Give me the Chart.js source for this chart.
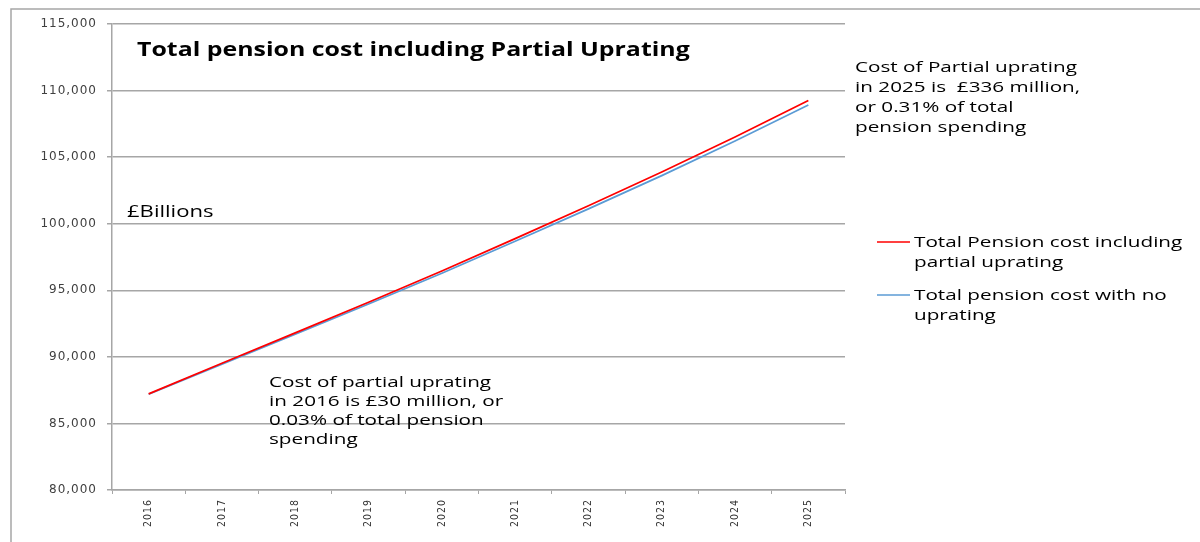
<!DOCTYPE html>
<html>
<head>
<meta charset="utf-8">
<script src="https://cdn.jsdelivr.net/npm/chart.js@4.4.1/dist/chart.umd.min.js"></script>
<style>
  html, body { margin: 0; padding: 0; background: #fff; }
  #wrap { width: 1200px; height: 542px; position: relative; }
</style>
</head>
<body>
<div id="wrap"><canvas id="chart"></canvas></div>
<script>
const years = ['2016', '2017', '2018', '2019', '2020', '2021', '2022', '2023', '2024', '2025'];
const withPartial = [87220, 89520, 91800, 94100, 96450, 98880, 101350, 103880, 106520, 109250];
const noUprating = [87190, 89456, 91702, 93968, 96284, 98680, 101116, 103612, 106218, 108914];
const seriesNames = ['Total Pension cost including partial uprating', 'Total pension cost with no uprating'];
const yTicks = { min: 80000, max: 115000, step: 5000 };

const chartTitle = 'Total pension cost including Partial Uprating';
const unitLabel = '£Billions';
const note2016 = ['Cost of partial uprating', 'in 2016 is £30 million, or', '0.03% of total pension', 'spending'];
const note2025 = ['Cost of Partial uprating', 'in 2025 is  £336 million,', 'or 0.31% of total', 'pension spending'];

const textFont = '"Open Sans", "Noto Sans", sans-serif';
const gridGray = '#a6a6a6';

// the source picture is stretched sideways, so text is widened to match
function wideText(ctx, text, x, y, sx) {
    ctx.save();
    ctx.translate(x, y);
    ctx.scale(sx, 1);
    ctx.fillText(text, 0, 0);
    ctx.restore();
}

const textPlugin = {
    id: 'textPlugin',
    beforeDraw(chart) {
        chart.ctx.letterSpacing = '1px';
    },
    afterDraw(chart) {
        const ctx = chart.ctx;
        ctx.save();
        ctx.letterSpacing = '0px';

        // outer frame
        ctx.strokeStyle = gridGray;
        ctx.lineWidth = 1.5;
        ctx.beginPath();
        ctx.moveTo(11, 542);
        ctx.lineTo(11, 9);
        ctx.lineTo(1200, 9);
        ctx.stroke();

        ctx.fillStyle = '#000';
        ctx.textBaseline = 'alphabetic';
        ctx.textAlign = 'left';

        const sx = 1.38;
        ctx.font = 'bold 19px ' + textFont;
        wideText(ctx, chartTitle, 137, 56, 1.31);

        ctx.font = '16px ' + textFont;
        wideText(ctx, unitLabel, 127, 217, sx);

        ctx.font = '15px ' + textFont;
        note2016.forEach((line, i) => wideText(ctx, line, 269, 387 + i * 19, sx));
        note2025.forEach((line, i) => wideText(ctx, line, 855, 72 + i * 20, sx));

        // legend
        const legendY = [242, 295];
        chart.data.datasets.forEach((ds, i) => {
            const y = legendY[i];
            ctx.strokeStyle = ds.borderColor;
            ctx.lineWidth = 1.5;
            ctx.beginPath();
            ctx.moveTo(877, y);
            ctx.lineTo(910, y);
            ctx.stroke();

            const words = ds.label.split(' ');
            const lines = [];
            let cur = '';
            words.forEach(w => {
                const test = cur ? cur + ' ' + w : w;
                if (ctx.measureText(test).width * sx > 275 && cur) {
                    lines.push(cur);
                    cur = w;
                } else {
                    cur = test;
                }
            });
            lines.push(cur);
            ctx.fillStyle = '#000';
            lines.forEach((line, j) => wideText(ctx, line, 914, y + 5 + j * 20, sx));
        });

        ctx.restore();
    }
};

const ctx = document.getElementById('chart').getContext('2d');
new Chart(ctx, {
    type: 'line',
    data: {
        labels: years,
        datasets: [{
            label: seriesNames[0],
            data: withPartial,
            borderColor: '#ff0000',
            borderWidth: 1.7,
            pointRadius: 0,
            tension: 0
        }, {
            label: seriesNames[1],
            data: noUprating,
            borderColor: '#5b9bd5',
            borderWidth: 1.7,
            pointRadius: 0,
            tension: 0
        }]
    },
    options: {
        responsive: true,
        maintainAspectRatio: false,
        animation: false,
        layout: {
            padding: { left: 0, top: 24, right: 355, bottom: 0 }
        },
        plugins: {
            legend: { display: false },
            tooltip: { enabled: false }
        },
        scales: {
            x: {
                offset: true,
                grid: {
                    offset: true,
                    drawOnChartArea: false,
                    drawTicks: true,
                    tickLength: 4,
                    color: gridGray
                },
                border: { color: gridGray, width: 1.5 },
                ticks: {
                    maxRotation: 90,
                    minRotation: 90,
                    padding: 5,
                    color: '#333',
                    font: { family: '"DejaVu Sans Condensed", "Liberation Sans Narrow", sans-serif', size: 10.5 }
                },
                afterFit(scale) { scale.height = 52; }
            },
            y: {
                min: yTicks.min,
                max: yTicks.max,
                grid: {
                    color: gridGray,
                    lineWidth: 1.5,
                    tickLength: 5
                },
                border: { color: gridGray, width: 1.5 },
                ticks: {
                    stepSize: yTicks.step,
                    padding: 10,
                    color: '#404040',
                    font: { family: '"DejaVu Sans", sans-serif', size: 12 },
                    callback: v => v.toLocaleString('en-US')
                },
                afterFit(scale) { scale.width = 112; }
            }
        }
    },
    plugins: [textPlugin]
});
</script>
</body>
</html>
